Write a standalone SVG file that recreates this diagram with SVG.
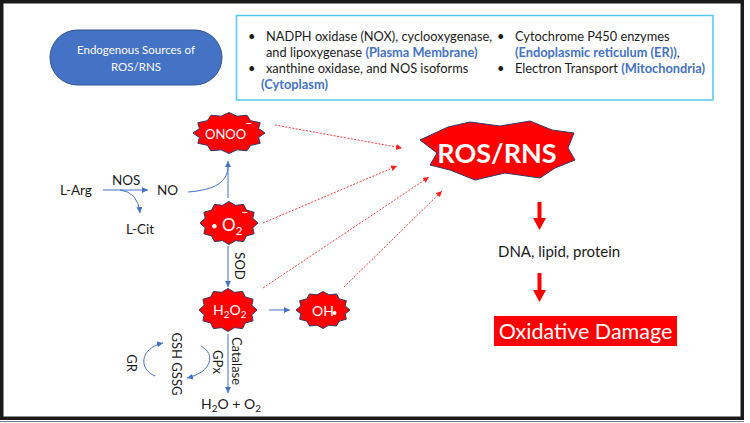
<svg xmlns="http://www.w3.org/2000/svg" xmlns:xlink="http://www.w3.org/1999/xlink" width="750" height="423" viewBox="0 0 750 423">
<style>
.t{font-family:Lato,"Liberation Sans",sans-serif;fill:#1a1a1a}
.w{font-family:Lato,"Liberation Sans",sans-serif;fill:#ffffff}
.b{fill:#4472C4;font-weight:bold}
.blue{fill:none;stroke:#4472C4;stroke-width:1}
.red{fill:none;stroke:#FF3B3B;stroke-width:1;stroke-dasharray:2 1.5}
.starp{fill:#FF0000;stroke:#2F3A6B;stroke-width:1}
</style>
<defs>
<polygon id="star" class="starp" vector-effect="non-scaling-stroke" points="1,0 .821,.22 .866,.5 .601,.601 .5,.866 .22,.821 0,1 -.22,.821 -.5,.866 -.601,.601 -.866,.5 -.821,.22 -1,0 -.821,-.22 -.866,-.5 -.601,-.601 -.5,-.866 -.22,-.821 0,-1 .22,-.821 .5,-.866 .601,-.601 .866,-.5 .821,-.22"/>
<marker id="ab" markerWidth="8" markerHeight="8" refX="6" refY="3" orient="auto" markerUnits="userSpaceOnUse"><path d="M0,0 L6,3 L0,6 z" fill="#4472C4"/></marker>
<marker id="ar" markerWidth="8" markerHeight="8" refX="6" refY="3" orient="auto" markerUnits="userSpaceOnUse"><path d="M0,0 L6,3 L0,6 z" fill="#FF2020"/></marker>
</defs>
<rect width="750" height="423" fill="#ffffff"/>
<rect x="1.75" y="1.75" width="740.5" height="416.5" fill="none" stroke="#1a1a1a" stroke-width="3.5"/>
<line x1="0" y1="421.5" x2="744" y2="421.5" stroke="#6f7c9a" stroke-width="1"/>

<g id="sources">
<rect x="50" y="30" width="172" height="55" rx="27.5" fill="#4472C4" stroke="#2F528F" stroke-width="1"/>
<text class="w" x="136" y="54" font-size="11.5" text-anchor="middle">Endogenous Sources of</text>
<text class="w" x="136" y="71" font-size="11.5" text-anchor="middle">ROS/RNS</text>
</g>

<g id="sourcelist">
<rect x="236.5" y="15.5" width="476.5" height="84.5" fill="#ffffff" stroke="#55C8F0" stroke-width="1.5"/>
<g class="t" font-size="12.8">
<text x="248" y="41">•</text>
<text x="266" y="41">NADPH oxidase (NOX), cyclooxygenase,</text>
<text x="266" y="57">and lipoxygenase <tspan class="b">(Plasma Membrane)</tspan></text>
<text x="248" y="73">•</text>
<text x="266" y="73">xanthine oxidase, and NOS isoforms</text>
<text x="261" y="89" class="b">(Cytoplasm)</text>
<text x="497" y="41">•</text>
<text x="515" y="41">Cytochrome P450 enzymes</text>
<text x="515" y="57"><tspan class="b">(Endoplasmic reticulum (ER))</tspan>,</text>
<text x="497" y="73">•</text>
<text x="515" y="73">Electron Transport <tspan class="b">(Mitochondria)</tspan></text>
</g>
</g>

<g id="connectors">
<line class="blue" x1="103" y1="190" x2="148" y2="190" marker-end="url(#ab)"/>
<path class="blue" d="M120,190 Q138,192 140,213" marker-end="url(#ab)"/>
<path class="blue" d="M188,192 C215,190 228,182 228,166"/>
<line class="blue" x1="228" y1="198" x2="228" y2="161" marker-end="url(#ab)"/>
<line class="blue" x1="228" y1="246" x2="228" y2="287" marker-end="url(#ab)"/>
<line class="blue" x1="269" y1="310" x2="290" y2="310" marker-end="url(#ab)"/>
<line class="blue" x1="228" y1="334" x2="228" y2="393" marker-end="url(#ab)"/>
<path class="blue" d="M201,346 C216,354 212,372 187,378" marker-end="url(#ab)"/>
<path class="blue" d="M155,376 C138,369 140,348 163,343" marker-end="url(#ab)"/>
<line class="red" x1="275" y1="125" x2="402" y2="148" marker-end="url(#ar)"/>
<line class="red" x1="263" y1="223" x2="397" y2="166" marker-end="url(#ar)"/>
<line class="red" x1="263" y1="288" x2="429" y2="177" marker-end="url(#ar)"/>
<line class="red" x1="344" y1="287" x2="442" y2="191" marker-end="url(#ar)"/>
<path d="M537.5,202 h4 v16 h4.5 l-6.5,12 l-6.5,-12 h4.5 z" fill="#FF0000"/>
<path d="M537.5,273 h4 v17 h4.5 l-6.5,12 l-6.5,-12 h4.5 z" fill="#FF0000"/>
</g>

<g id="larg"><text class="t" x="60" y="195" font-size="13.5">L-Arg</text></g>
<g id="nos"><text class="t" x="112" y="185" font-size="13.5">NOS</text></g>
<g id="no"><text class="t" x="157" y="195" font-size="13.5">NO</text></g>
<g id="lcit"><text class="t" x="126" y="234" font-size="13.5">L-Cit</text></g>

<g id="onoo">
<use xlink:href="#star" transform="translate(229,133) scale(36,20.5)"/>
<text class="w" x="205" y="139" font-size="13">ONOO<tspan x="245" dy="-11">–</tspan></text>
</g>
<g id="o2">
<use xlink:href="#star" transform="translate(229,223) scale(29,21.5)"/>
<text class="w" x="211" y="230" font-size="12">•</text>
<text class="w" x="222" y="231" font-size="17">O<tspan font-size="12" dy="4">2</tspan><tspan font-size="13" x="241" dy="-18">–</tspan></text>
</g>
<g id="h2o2">
<use xlink:href="#star" transform="translate(228,310) scale(29,21.5)"/>
<text class="w" x="213" y="315" font-size="14">H<tspan font-size="10" dy="3">2</tspan><tspan dy="-3">O</tspan><tspan font-size="10" dy="3">2</tspan></text>
</g>
<g id="oh">
<use xlink:href="#star" transform="translate(323,310) scale(27,18.5)"/>
<text class="w" x="312" y="316" font-size="14">OH</text>
<circle cx="334.5" cy="313" r="2" fill="#ffffff"/>
</g>

<g id="rosrns">
<polygon points="420,140 448,127 470,122 500,126 530,121 552,130 574,133 568,148 575,160 555,168 540,178 505,173 475,180 450,170 430,165 437,153" fill="#FF0000" stroke="#2F3A6B" stroke-width="1"/>
<text class="w" x="497" y="163" font-size="27" font-weight="bold" text-anchor="middle">ROS/RNS</text>
</g>

<g id="dna"><text class="t" x="498" y="257" font-size="15">DNA, lipid, protein</text></g>
<g id="damage">
<rect x="494" y="316" width="183" height="30" fill="#FF0000"/>
<text class="w" x="585.5" y="339" font-size="21.5" text-anchor="middle">Oxidative Damage</text>
</g>

<g id="labels" class="t" font-size="13">
<text transform="translate(235,266) rotate(90)" text-anchor="middle">SOD</text>
<text transform="translate(232,361) rotate(90)" text-anchor="middle">Catalase</text>
<text transform="translate(213,362) rotate(90)" text-anchor="middle">GPx</text>
<text transform="translate(172,364) rotate(90)" text-anchor="middle">GSH GSSG</text>
<text transform="translate(127,363) rotate(90)" text-anchor="middle">GR</text>
</g>
<g id="water"><text class="t" x="201" y="409" font-size="14">H<tspan font-size="10" dy="3">2</tspan><tspan dy="-3">O + O</tspan><tspan font-size="10" dy="3">2</tspan></text></g>
</svg>
